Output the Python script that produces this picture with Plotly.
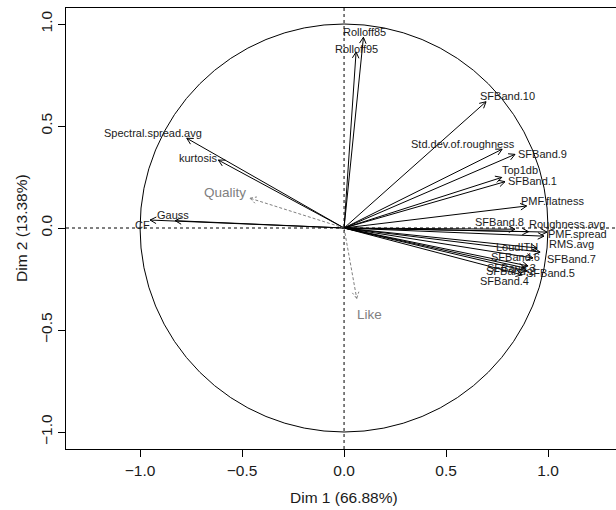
import numpy as np
import plotly.graph_objects as go

# ---- data: coordinates of variables on Dim 1 / Dim 2 ----
active_names = ["Rolloff85", "Rolloff95", "SFBand.10", "Std.dev.of.roughness", "SFBand.9",
                "Top1db", "SFBand.1", "PMF.flatness", "SFBand.8", "Roughness.avg",
                "PMF.spread", "RMS.avg", "LoudITU", "SFBand.6", "SFBand.7",
                "SFBand.3", "SFBand.2", "SFBand.5", "SFBand.4",
                "Spectral.spread.avg", "kurtosis", "Gauss", "CF"]
active_dim1 = [0.095, 0.059, 0.696, 0.775, 0.838,
               0.773, 0.789, 0.895, 0.838, 0.904,
               0.995, 0.980, 0.946, 0.926, 0.961,
               0.902, 0.887, 0.897, 0.873,
               -0.771, -0.616, -0.828, -0.951]
active_dim2 = [0.935, 0.863, 0.619, 0.386, 0.361,
               0.248, 0.227, 0.108, -0.006, -0.018,
               -0.020, -0.040, -0.098, -0.147, -0.118,
               -0.186, -0.196, -0.211, -0.230,
               0.440, 0.333, 0.036, 0.039]

sup_names = ["Quality", "Like"]
sup_dim1 = [-0.461, 0.062]
sup_dim2 = [0.146, -0.345]

x_ticks = [-1.0, -0.5, 0.0, 0.5, 1.0]
x_tick_text = ["\u22121.0", "\u22120.5", "0.0", "0.5", "1.0"]
y_ticks = [-1.0, -0.5, 0.0, 0.5, 1.0]
y_tick_text = ["\u22121.0", "\u22120.5", "0.0", "0.5", "1.0"]
x_title = "Dim 1 (66.88%)"
y_title = "Dim 2 (13.38%)"

# ---- label placement (pixel offsets from arrow tip; layout only) ----
LABEL_OFFSETS = {
    "Rolloff85": (1, 5), "Rolloff95": (0, 3), "SFBand.10": (21, 6),
    "Std.dev.of.roughness": (-39, 5), "SFBand.9": (27, 0), "Top1db": (18, 7),
    "SFBand.1": (27, 1), "PMF.flatness": (26, 5), "SFBand.8": (-16, 7),
    "Roughness.avg": (39, 8), "PMF.spread": (30, -2), "RMS.avg": (28, -8),
    "LoudITU": (-20, 1), "SFBand.6": (-17, 1), "SFBand.7": (31, -7),
    "SFBand.3": (-17, -2), "SFBand.2": (-15, -3), "SFBand.5": (23, -2),
    "SFBand.4": (-18, -6), "Spectral.spread.avg": (-34, 5), "kurtosis": (-20, 2),
    "Gauss": (-2, 6), "CF": (-8, -5),
    "Quality": (-25, 6), "Like": (13, -16),
}

PX_PER_UNIT = 204.0
HEAD_LEN = 7.0 / PX_PER_UNIT
HEAD_ANG = np.deg2rad(28)


def arrow_path(xs, ys):
    px, py = [], []
    for x, y in zip(xs, ys):
        th = np.arctan2(y, x)
        px += [0, x, None]
        py += [0, y, None]
        for s in (1, -1):
            px += [x, x - HEAD_LEN * np.cos(th + s * HEAD_ANG), None]
            py += [y, y - HEAD_LEN * np.sin(th + s * HEAD_ANG), None]
    return px, py


fig = go.Figure()

ax_px, ay_px = arrow_path(active_dim1, active_dim2)
fig.add_trace(go.Scatter(x=ax_px, y=ay_px, mode="lines",
                         line=dict(color="black", width=1), hoverinfo="skip",
                         showlegend=False))
sx_px, sy_px = arrow_path(sup_dim1, sup_dim2)
fig.add_trace(go.Scatter(x=sx_px, y=sy_px, mode="lines",
                         line=dict(color="#808080", width=1, dash="3px,2px"),
                         hoverinfo="skip", showlegend=False))

XR = [-1.363, -1.363 + 550 / PX_PER_UNIT]
YR = [-221 / PX_PER_UNIT, 220 / PX_PER_UNIT]

shapes = [
    dict(type="circle", xref="x", yref="y", x0=-1, y0=-1, x1=1, y1=1,
         line=dict(color="black", width=1)),
    dict(type="line", xref="x", yref="y", x0=XR[0], x1=XR[1], y0=0, y1=0,
         line=dict(color="black", width=1, dash="3px,3px")),
    dict(type="line", xref="x", yref="y", x0=0, x1=0, y0=YR[0], y1=YR[1],
         line=dict(color="black", width=1, dash="3px,3px")),
]

annotations = []
for n, x, y in zip(active_names, active_dim1, active_dim2):
    dx, dy = LABEL_OFFSETS[n]
    annotations.append(dict(x=x, y=y, xref="x", yref="y", text=n, showarrow=False,
                            xshift=dx, yshift=dy,
                            font=dict(family="Liberation Sans", size=11, color="#1a1a1a")))
for n, x, y in zip(sup_names, sup_dim1, sup_dim2):
    dx, dy = LABEL_OFFSETS[n]
    annotations.append(dict(x=x, y=y, xref="x", yref="y", text=n, showarrow=False,
                            xshift=dx, yshift=dy,
                            font=dict(family="Liberation Sans", size=13.5, color="#808080")))

annotations.append(dict(x=0, y=0, xref="x", yref="paper", text=x_title, showarrow=False,
                        yanchor="middle", yshift=-48,
                        font=dict(family="Liberation Sans", size=15.5, color="#1a1a1a")))
annotations.append(dict(x=0, y=0, xref="paper", yref="y", text=y_title, showarrow=False,
                        xanchor="center", textangle=-90, xshift=-45,
                        font=dict(family="Liberation Sans", size=15.5, color="#1a1a1a")))

fig.update_layout(
    width=616, height=510,
    margin=dict(l=66, r=0, t=8, b=61),
    paper_bgcolor="white", plot_bgcolor="white",
    shapes=shapes, annotations=annotations,
    xaxis=dict(range=XR, tickvals=x_ticks, ticktext=x_tick_text,
               showgrid=False, zeroline=False, showline=True, mirror=True,
               linecolor="black", linewidth=1, ticks="outside", ticklen=7,
               tickcolor="black", tickwidth=1,
               tickfont=dict(family="Liberation Sans", size=15.5, color="#1a1a1a")),
    yaxis=dict(range=YR, tickvals=y_ticks, ticktext=y_tick_text,
               showgrid=False, zeroline=False, showline=True, mirror=False,
               linecolor="black", linewidth=1, ticks="outside", ticklen=7,
               tickcolor="black", tickwidth=1, tickangle=-90,
               tickfont=dict(family="Liberation Sans", size=15.5, color="#1a1a1a")),
)

fig.write_html("out.html")
